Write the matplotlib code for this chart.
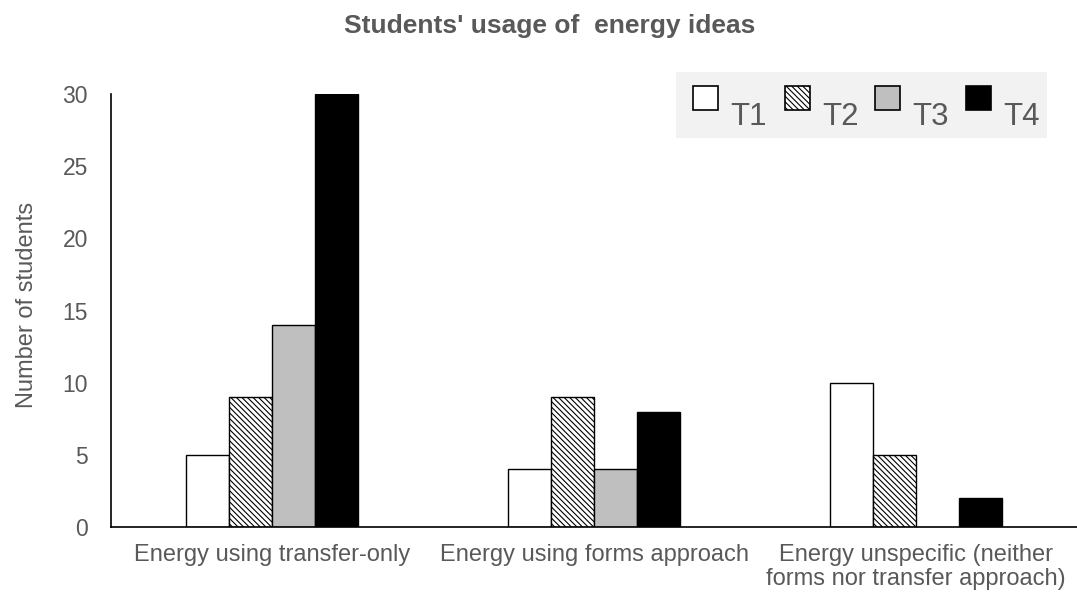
import matplotlib
matplotlib.use("Agg")
import matplotlib.pyplot as plt
from matplotlib.patches import Rectangle
import numpy as np

plt.rcParams['font.family'] = ['Liberation Sans', 'DejaVu Sans']
plt.rcParams['hatch.linewidth'] = 0.8

categories = ["Energy using transfer-only", "Energy using forms approach",
              "Energy unspecific (neither\nforms nor transfer approach)"]
series_names = ["T1", "T2", "T3", "T4"]
T1 = [5, 4, 10]
T2 = [9, 9, 5]
T3 = [14, 4, 0]
T4 = [30, 8, 2]
values = [T1, T2, T3, T4]
yticks = [0, 5, 10, 15, 20, 25, 30]

faces = ["white", "white", "#bfbfbf", "black"]
hatches = [None, "\\\\\\\\\\\\", None, None]
gray = "#595959"

W, H = 1077, 599
fig = plt.figure(figsize=(W / 100, H / 100), dpi=100)
ax = fig.add_axes([111 / W, 1 - 527 / H, (W - 111) / W, (527 - 94) / H])

x = np.arange(len(categories))
bw = 0.134
for i, (vals, fc, h) in enumerate(zip(values, faces, hatches)):
    offs = (i - 1.5) * bw
    v = np.array(vals, dtype=float)
    mask = v > 0
    ax.bar(x[mask] + offs, v[mask], width=bw, color=fc, edgecolor="black",
           linewidth=1.0, hatch=h, label=series_names[i])

ax.set_xlim(-0.5, 2.5)
ax.set_ylim(0, 30)
ax.set_yticks(yticks)
ax.set_xticks(x)
ax.set_xticklabels(categories, fontsize=17, color=gray, linespacing=1.15)
ax.tick_params(axis='y', labelsize=16.5, colors=gray, length=0, pad=16.5)
ax.tick_params(axis='x', length=0, pad=12)
for s in ["top", "right"]:
    ax.spines[s].set_visible(False)
ax.spines["left"].set_color("black")
ax.spines["bottom"].set_color("black")
ax.spines["left"].set_linewidth(1.2)
ax.spines["bottom"].set_linewidth(1.2)
ax.set_ylabel("Number of students", fontsize=17, color=gray)
ax.yaxis.set_label_coords(-(111 - 38) / (W - 111), (527 - 305) / (527 - 94))

fig.text(550 / W, 1 - 33 / H, "Students' usage of  energy ideas", ha="center",
         va="baseline", fontsize=19, fontweight="bold", color=gray)

# legend box
fig.patches.append(Rectangle((676 / W, 1 - 138 / H), (1047 - 676) / W, (138 - 72) / H,
                             transform=fig.transFigure, facecolor="#f2f2f2",
                             edgecolor="none", zorder=5))
mx = [693, 785, 875, 966]
for i, name in enumerate(series_names):
    fig.patches.append(Rectangle((mx[i] / W, 1 - 110 / H), 25 / W, 24 / H,
                                 transform=fig.transFigure, facecolor=faces[i],
                                 edgecolor="black", linewidth=1.2,
                                 hatch=hatches[i], zorder=6))
    fig.text((mx[i] + 37) / W, 1 - 125 / H, name, ha="left", va="baseline",
             fontsize=22.5, color=gray, zorder=7)

fig.savefig("out.png", dpi=100, facecolor="white")
